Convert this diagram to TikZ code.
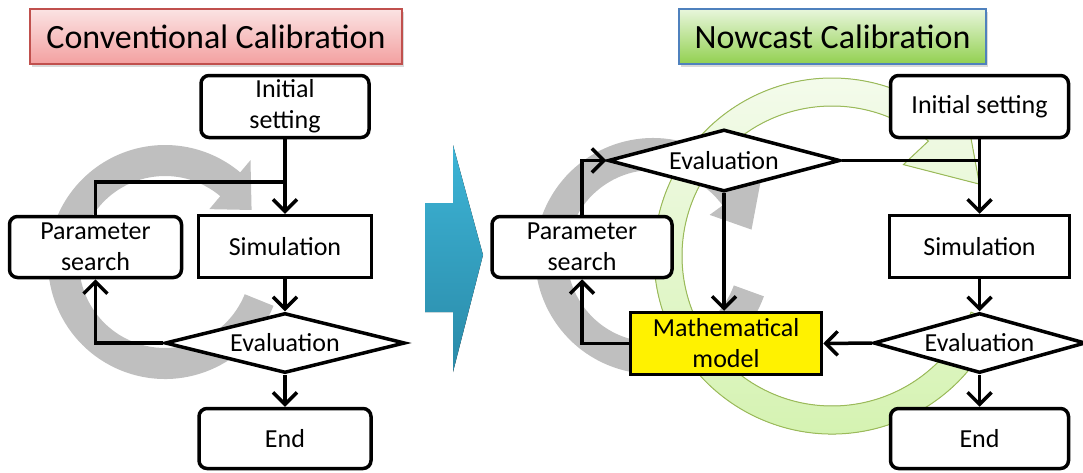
\documentclass[tikz,border=0pt]{standalone}
\usepackage{fontspec}
\setmainfont{Carlito}
\usetikzlibrary{arrows.meta,shapes.geometric,shadows}
\newcommand\nfont{\fontsize{26}{31}\selectfont}
\newcommand\tfont{\fontsize{34}{40}\selectfont}
\definecolor{redTop}{HTML}{FBE3E3}
\definecolor{redBot}{HTML}{F3A0A0}
\definecolor{redBorder}{HTML}{C0504D}
\definecolor{grnTop}{HTML}{E8F6DC}
\definecolor{grnBot}{HTML}{92D050}
\definecolor{bluBorder}{HTML}{4F81BD}
\definecolor{bluTop}{HTML}{3DB4D6}
\definecolor{bluBot}{HTML}{2A8AA8}
\definecolor{ringGray}{HTML}{BFBFBF}
\definecolor{ringGrnTop}{HTML}{F4FBEC}
\definecolor{ringGrnBot}{HTML}{D3F2AE}
\definecolor{ringGrnBorder}{HTML}{9BBB59}
\begin{document}
\begin{tikzpicture}[x=1pt,y=-1pt,
  box/.style={draw, line width=3.5pt, fill=white, inner sep=0pt, align=center, font=\nfont},
  rbox/.style={box, rounded corners=8pt},
  dia/.style={diamond, aspect=3.9, draw, line width=3.5pt, fill=white, inner sep=0pt, font=\nfont},
  conn/.style={line width=3.5pt},
  arr/.style={conn, -{Straight Barb[length=12pt,width=24pt]}},
  title/.style={line width=1.5pt, inner sep=0pt, font=\tfont, drop shadow={shadow xshift=2pt,shadow yshift=-3pt,opacity=0.3}}]
\useasboundingbox (0,0) rectangle (1083,472);

% titles
\node[title, draw=redBorder, top color=redTop, bottom color=redBot,
      minimum width=372pt, minimum height=55pt] (t1) at (216,36.5) {Conventional Calibration};
\node[title, draw=bluBorder, top color=grnTop, bottom color=grnBot,
      minimum width=307pt, minimum height=55pt] (t2) at (832.5,36.5) {Nowcast Calibration};

% big blue arrow
\fill[top color=bluTop, bottom color=bluBot]
  (425,203) -- (453,203) -- (453,145) -- (483,255) -- (453,372) -- (453,312) -- (425,312) -- cycle;

% green circular arrow
\begin{scope}[shift={(832,256)}, yscale=-1]
\filldraw[draw=ringGrnBorder, line width=1pt, top color=ringGrnTop, bottom color=ringGrnBot]
  (-22:150) -- (-22:178) arc[start angle=-22, end angle=-310, radius=178]
  -- (50:205) -- (26:164) -- (52:116) -- (50:150)
  arc[start angle=50, end angle=338, radius=150] -- cycle;
\end{scope}

% gray circular arrows
\begin{scope}[shift={(165,262)}, yscale=-1]
\fill[ringGray] (-22:86) -- (-22:117) arc[start angle=-22, end angle=-310, radius=117]
  -- (50:133) -- (31:101) -- (50:69) -- (50:86)
  arc[start angle=50, end angle=338, radius=86] -- cycle;
\end{scope}
\begin{scope}[shift={(653,256)}, yscale=-1]
\fill[ringGray] (-20:86) -- (-20:118) arc[start angle=-20, end angle=-324, radius=118]
  -- (36:134) -- (15:102) -- (36:70) -- (36:86)
  arc[start angle=36, end angle=340, radius=86] -- cycle;
\end{scope}

% left flowchart
\node[rbox, minimum width=168pt, minimum height=62pt] (Linit) at (285,106.5) {Initial\\setting};
\node[box, minimum width=173pt, minimum height=62pt] (Lsim) at (285,246.5) {Simulation};
\node[rbox, minimum width=172pt, minimum height=61pt] (Lpar) at (95.5,247) {Parameter\\search};
\node[dia, minimum width=240pt, minimum height=60pt] (Leval) at (285,343) {Evaluation};
\node[rbox, minimum width=172pt, minimum height=60pt] (Lend) at (285,438.5) {End};
\coordinate (Ljoin) at (285,182);

\draw[arr] (Linit.south) -- (Lsim.north);
\draw[conn] (Lpar.north) |- (Ljoin);
\draw[arr] (Lsim.south) -- (Leval.north);
\draw[arr] (Leval.west) -| (Lpar.south);
\draw[arr] (Leval.south) -- (Lend.north);

% right flowchart
\node[rbox, minimum width=178pt, minimum height=62pt] (Rinit) at (979.5,106.5) {Initial setting};
\node[dia, minimum width=232pt, minimum height=62pt] (Reval1) at (724,160.5) {Evaluation};
\node[rbox, minimum width=180pt, minimum height=61pt] (Rpar) at (582,247) {Parameter\\search};
\node[box, minimum width=180pt, minimum height=62pt] (Rsim) at (979.5,246.5) {Simulation};
\node[box, fill=yellow, minimum width=191pt, minimum height=62pt] (Rmath) at (726,343.5) {Mathematical\\model};
\node[dia, minimum width=212pt, minimum height=60pt] (Reval2) at (979.5,343) {Evaluation};
\node[rbox, minimum width=178pt, minimum height=60pt] (Rend) at (979.5,438.5) {End};
\coordinate (Rjoin) at (979.5,160.5);

\draw[arr] (Rinit.south) -- (Rsim.north);
\draw[conn] (Reval1.east) -- (Rjoin);
\draw[arr] (Rpar.north) |- (Reval1.west);
\draw[arr] (Reval1.south) -- (Reval1.south |- Rmath.north);
\draw[arr] (Rsim.south) -- (Reval2.north);
\draw[arr] (Reval2.west) -- (Rmath.east);
\draw[arr] (Rmath.west) -| (Rpar.south);
\draw[arr] (Reval2.south) -- (Rend.north);
\end{tikzpicture}
\end{document}
